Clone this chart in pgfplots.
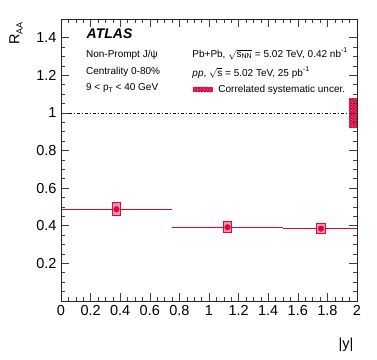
\documentclass[border=0pt]{standalone}
\usepackage{amsmath}
\usepackage{fontspec}
\setmainfont{Liberation Sans}
\usepackage{pgfplots}
\pgfplotsset{compat=1.18}
\usetikzlibrary{patterns}
\definecolor{atlasred}{RGB}{218,8,60}
\definecolor{atlaspink}{RGB}{238,150,172}
\newcommand{\lbl}{\fontsize{10bp}{12bp}\selectfont}
\newcommand{\sub}[1]{\raisebox{-0.4ex}{\fontsize{7bp}{7bp}\selectfont #1}}
\newcommand{\sups}[1]{\raisebox{0.9ex}{\fontsize{7bp}{7bp}\selectfont #1}}

\begin{document}
\begin{tikzpicture}
\path[use as bounding box] (0,0) rectangle (377bp,360bp);
\begin{axis}[
    at={(61bp,59bp)}, anchor=south west,
    scale only axis, width=296bp, height=282bp,
    xmin=0, xmax=2, ymin=0, ymax=1.5,
    xtick={0,0.2,0.4,0.6,0.8,1,1.2,1.4,1.6,1.8,2},
    ytick={0,0.2,0.4,0.6,0.8,1,1.2,1.4},
    yticklabels={,0.2,0.4,0.6,0.8,1,1.2,1.4},
    minor tick num=3,
    tick align=inside,
    major tick length=8bp, minor tick length=4bp,
    every tick/.style={black!75, line width=0.6bp},
    axis line style={black!85, line width=0.8bp},
    tick label style={font=\fontsize{14.5bp}{17bp}\selectfont},
    /pgf/number format/assume math mode=true,
    xticklabel style={yshift=-1bp},
    yticklabel style={xshift=-1bp},
    xlabel={\fontsize{14.5bp}{17bp}\selectfont |y|},
    every axis x label/.style={at={(rel axis cs:1,0)}, anchor=north east, yshift=-33bp},
    ylabel={\fontsize{14.5bp}{17bp}\selectfont R\sub{\fontsize{9bp}{9bp}\selectfont AA}},
    every axis y label/.style={at={(rel axis cs:-0.152,1.0)}, anchor=east, rotate=90},
    axis on top,
    clip=true,
]

% reference line at R_AA = 1
\addplot[black, line width=0.8bp, dash pattern=on 3bp off 2bp on 1bp off 2bp] coordinates {(0,1) (2,1)};

% bin widths
\addplot[draw=atlasred, line width=1.4bp] coordinates {(0,0.488) (0.75,0.488)};
\addplot[draw=atlasred, line width=1.4bp] coordinates {(0.75,0.392) (1.5,0.392)};
\addplot[draw=atlasred, line width=1.4bp] coordinates {(1.5,0.385) (2,0.385)};

% systematic boxes
\addplot[draw=atlasred, fill=atlaspink, line width=0.8bp] coordinates {(0.348,0.453) (0.402,0.453) (0.402,0.523) (0.348,0.523)} --cycle;
\addplot[draw=atlasred, fill=atlaspink, line width=0.8bp] coordinates {(1.097,0.363) (1.153,0.363) (1.153,0.421) (1.097,0.421)} --cycle;
\addplot[draw=atlasred, fill=atlaspink, line width=0.8bp] coordinates {(1.729,0.357) (1.785,0.357) (1.785,0.413) (1.729,0.413)} --cycle;

% points
\addplot[only marks, mark=*, mark size=2.8bp, color=atlasred] coordinates {(0.375,0.488) (1.125,0.392) (1.757,0.385)};

% correlated systematic uncertainty
\addplot[fill=atlasred, draw=none, postaction={pattern=crosshatch dots, pattern color=atlaspink}]
    coordinates {(1.948,0.918) (2,0.918) (2,1.078) (1.948,1.078)} --cycle;

% labels
\node[anchor=west, font=\fontsize{14bp}{16bp}\selectfont\bfseries\itshape] at (rel axis cs:0.075,0.947) {ATLAS};
\node[anchor=west, font=\lbl] at (rel axis cs:0.073,0.872) {Non-Prompt J/ψ};
\node[anchor=west, font=\lbl] at (rel axis cs:0.073,0.813) {Centrality 0-80\%};
\node[anchor=west, font=\lbl] at (rel axis cs:0.073,0.755) {9 < p\sub{T} < 40 GeV};
\node[anchor=west, font=\lbl, inner sep=1bp] at (rel axis cs:0.44,0.877) {Pb+Pb, $\sqrt{\text{s}_{\text{NN}}}$ = 5.02 TeV, 0.42 nb\sups{-1}};
\node[anchor=west, font=\lbl, inner sep=1bp] at (rel axis cs:0.44,0.811) {\textit{pp}, $\sqrt{\text{s}}$ = 5.02 TeV, 25 pb\sups{-1}};
\fill[atlasred] (rel axis cs:0.447,0.740) rectangle (rel axis cs:0.512,0.760);
\fill[pattern=crosshatch dots, pattern color=atlaspink] (rel axis cs:0.447,0.740) rectangle (rel axis cs:0.512,0.760);
\node[anchor=west, font=\lbl] at (rel axis cs:0.52,0.750) {Correlated systematic uncer.};

\end{axis}
\end{tikzpicture}
\end{document}
